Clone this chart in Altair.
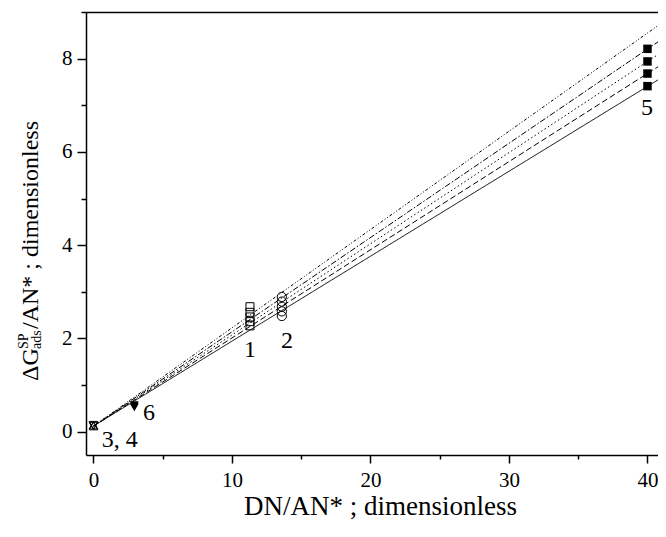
import altair as alt
import pandas as pd

FONT = "Liberation Serif"

# ---- data ----
# fitted lines (one per solvent series), start and end points
fit_names = ["L1", "L2", "L3", "L4", "L5"]
fit_x0 = [0.0, 0.0, 0.0, 0.0, 0.0]
fit_y0 = [0.12, 0.12, 0.12, 0.12, 0.12]
fit_x1 = [42.0, 42.0, 42.0, 42.0, 42.0]
fit_y1 = [7.77, 8.06, 8.33, 8.61, 8.97]

# series 1: open squares
s1_x = [11.3, 11.3, 11.3, 11.3, 11.3]
s1_y = [2.27, 2.36, 2.46, 2.56, 2.68]
# series 2: open circles
s2_x = [13.6, 13.6, 13.6, 13.6, 13.6]
s2_y = [2.48, 2.58, 2.68, 2.79, 2.89]
# series 3: open up-triangles
s3_x = [0.0, 0.0]
s3_y = [0.12, 0.14]
# series 4: open down-triangles
s4_x = [0.0, 0.0]
s4_y = [0.12, 0.14]
# series 5: filled squares
s5_x = [40.0, 40.0, 40.0, 40.0]
s5_y = [7.41, 7.68, 7.94, 8.21]
# series 6: filled down-triangles
s6_x = [2.95, 2.95, 2.95]
s6_y = [0.52, 0.54, 0.57]

# series labels
lab_text = ["1", "2", "5", "6", "3, 4"]
lab_x = [11.3, 13.97, 39.96, 4.0, 1.9]
lab_y = [1.75, 1.94, 6.94, 0.40, -0.18]

# axis ticks
x_ticks = [0, 5, 10, 15, 20, 25, 30, 35, 40]
y_ticks = [0, 1, 2, 3, 4, 5, 6, 7, 8, 9]

# ---- tables ----
rows = []
for n, a, b, c, d in zip(fit_names, fit_x0, fit_y0, fit_x1, fit_y1):
    rows.append({"fit": n, "x": a, "y": b})
    rows.append({"fit": n, "x": c, "y": d})
df_lines = pd.DataFrame(rows)

df1 = pd.DataFrame({"x": s1_x, "y": s1_y})
df2 = pd.DataFrame({"x": s2_x, "y": s2_y})
df3 = pd.DataFrame({"x": s3_x, "y": s3_y})
df4 = pd.DataFrame({"x": s4_x, "y": s4_y})
df5 = pd.DataFrame({"x": s5_x, "y": s5_y})
df6 = pd.DataFrame({"x": s6_x, "y": s6_y})
df_lab = pd.DataFrame({"x": lab_x, "y": lab_y, "t": lab_text})

xs = alt.Scale(domain=[-0.54, 40.76], nice=False, zero=False)
ys = alt.Scale(domain=[-0.5, 9.0], nice=False, zero=False)

x_axis = alt.Axis(
    orient="bottom",
    values=x_ticks,
    labelExpr="datum.value % 10 == 0 ? datum.label : ''",
    tickSize={"condition": {"test": "datum.value % 10 != 0", "value": 4}, "value": 8},
    title="DN/AN* ; dimensionless",
    titleFontSize=27, titleFont=FONT, titleFontWeight="normal", titleColor="black",
    titleX=294, titleY=51, titleAlign="center", titleBaseline="middle",
    labelFontSize=21, labelPadding=6, grid=False,
)
y_axis = alt.Axis(
    orient="left",
    values=y_ticks,
    labelExpr="datum.value % 2 == 0 ? datum.label : ''",
    tickSize={"condition": {"test": "datum.value % 2 != 0", "value": 5}, "value": 9},
    title=None, labelFontSize=21, labelPadding=5, grid=False,
)
top_axis = alt.Axis(orient="top", ticks=False, labels=False, title=None,
                    grid=False, domain=True)

dash_range = [[1, 0], [6, 3], [1.5, 2.5], [6, 2, 1.5, 2], [3, 2, 1, 2, 1, 2]]

lines = alt.Chart(df_lines).mark_line(color="black", strokeWidth=1, clip=True).encode(
    x=alt.X("x:Q", scale=xs, axis=x_axis),
    y=alt.Y("y:Q", scale=ys, axis=y_axis),
    detail="fit:N",
    strokeDash=alt.StrokeDash("fit:N", scale=alt.Scale(domain=fit_names, range=dash_range), legend=None),
)


def pts(df, shape, filled, size, top=False):
    return alt.Chart(df).mark_point(shape=shape, filled=filled, size=size, color="black",
                                    strokeWidth=1, opacity=1).encode(
        x=alt.X("x:Q", scale=xs, axis=top_axis if top else None),
        y=alt.Y("y:Q", scale=ys, axis=None),
    )


p1 = pts(df1, "square", False, 64, top=True)
p2 = pts(df2, "circle", False, 85)
p3 = pts(df3, "triangle-up", False, 75)
p4 = pts(df4, "triangle-down", False, 75)
p5 = pts(df5, "square", True, 72)
p6 = pts(df6, "triangle-down", True, 75)

labels = alt.Chart(df_lab).mark_text(font=FONT, fontSize=24, color="black",
                                      align="center", baseline="middle").encode(
    x=alt.X("x:Q", scale=xs, axis=None),
    y=alt.Y("y:Q", scale=ys, axis=None),
    text="t:N",
)


def title_piece(txt, px, py, size):
    return alt.Chart(pd.DataFrame({"t": [txt]})).mark_text(
        angle=270, align="left", baseline="alphabetic", font=FONT,
        fontSize=size, color="black").encode(
        text="t:N", x=alt.value(px), y=alt.value(py))


yt1 = title_piece("ΔG", -48, 369, 24)
yt2 = title_piece("SP", -58, 337, 14)
yt3 = title_piece("ads", -45, 337, 14)
yt4 = title_piece("/AN* ; dimensionless", -48, 317, 24)

chart = alt.layer(lines, p1, p2, p3, p4, p5, p6, labels, yt1, yt2, yt3, yt4).resolve_axis(
    x="independent", y="independent"
).properties(
    width=572, height=443,
    autosize=alt.AutoSizeParams(type="none"),
    padding={"left": 78, "top": 4, "right": 0, "bottom": 65},
    background="white",
).configure_view(stroke=None).configure_axis(
    domainColor="black", domainWidth=1.5, tickColor="black", tickWidth=1.5,
    labelFont=FONT, labelColor="black", titleFont=FONT,
)

chart.save("out.html", embed_options={"renderer": "svg", "actions": False})
